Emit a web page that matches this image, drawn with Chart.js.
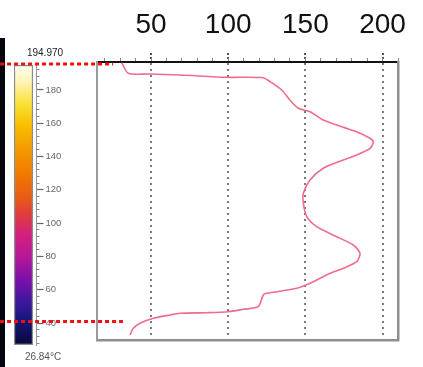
<!DOCTYPE html>
<html><head><meta charset="utf-8">
<script src="https://cdn.jsdelivr.net/npm/chart.js@4/dist/chart.umd.min.js"></script>
<style>
html,body{margin:0;padding:0;background:#fff;}
#wrap{position:relative;width:423px;height:367px;overflow:hidden;background:#fff;}
#strip{position:absolute;left:0;top:38px;width:5px;height:329px;background:#05050f;}
#cb{position:absolute;left:0;top:0;}
#main{position:absolute;left:0;top:0;}
</style></head><body>
<div id="wrap">
<div id="strip"></div>
<canvas id="cb" width="95" height="367"></canvas>
<canvas id="main" width="423" height="367"></canvas>
</div>
<script>
// ---- data ----
const profileTemps = [31.0,35.3,49.3,68.8,99.0,122.7,127.1,134.7,140.0,145.4,153.0,161.6,174.6,183.2,191.9,194.0,191.9,183.2,174.6,161.6,153.0,148.7,148.7,150.9,157.3,170.3,181.0,185.4,183.2,174.6,166.0,153.0,144.4,124.9,122.7,119.5,109.8,100.1,86.1,68.8,62.3,51.5,42.9,38.5,36.4];
const profilePositions = [0.7,11.3,12,13,15.3,15.7,19.7,28,38,46.3,49.7,58,65.3,69.7,76.3,80,86.3,93,98,106.3,118,131.3,141.3,154.7,164.7,174.7,183,191.3,199.7,206.3,211.3,221.3,226.3,231.3,233,244.7,247.3,249.7,250.7,251.3,253,256.3,261.3,266.3,273];
const positionRange = [0, 278];
const tempRange = [15, 210];
const xMajorTicks = [50,100,150,200];
const xMinorTicks = [20,30,40,50,60,70,80,90,100,110,120,130,140,150,160,170,180,190,200,210];
const markerTopTemps = [-47.8, 25.4];
const markerTopPos = [2, 2];
const markerBottomTemps = [-47.8, 31.8];
const markerBottomPos = [259.5, 259.5];
const colorbarRange = [26.84, 194.97];
const colorbarMajorTicks = [40,60,80,100,120,140,160,180];
const colorbarMinorTicks = [28,32,36,40,44,48,52,56,60,64,68,72,76,80,84,88,92,96,100,104,108,112,116,120,124,128,132,136,140,144,148,152,156,160,164,168,172,176,180,184,188,192];
const colorbarMaxLabel = '194.970';
const colorbarMinLabel = '26.84°C';

// ---- colorbar ----
const stops = [[0,'#fffff2'],[0.054,'#fff6c0'],[0.143,'#fae030'],[0.214,'#f8c000'],[0.30,'#f49a00'],[0.39,'#f07a00'],[0.48,'#e85818'],[0.536,'#dd3c40'],[0.61,'#d22080'],[0.68,'#b81898'],[0.77,'#7a10a8'],[0.84,'#4018a0'],[0.91,'#18167a'],[1,'#08083a']];
const cbLabels = {id:'cbLabels', afterDraw(chart){
  const s = chart.scales.y, c = chart.ctx;
  c.save();
  c.font = '10px "Liberation Sans"'; c.textAlign='center'; c.textBaseline='middle';
  c.fillStyle = '#222';
  c.fillText(colorbarMaxLabel, 45, s.getPixelForValue(colorbarRange[1]) - 12);
  c.fillStyle = '#555';
  c.fillText(colorbarMinLabel, 43, s.getPixelForValue(colorbarRange[0]) + 12);
  c.restore();
}};
new Chart(document.getElementById('cb'), {
  type:'bar',
  data:{labels:['t'], datasets:[{data:[colorbarRange],
    backgroundColor:(ctx)=>{const a=ctx.chart.chartArea; if(!a) return '#000';
      const g=ctx.chart.ctx.createLinearGradient(0,a.top,0,a.bottom); stops.forEach(([o,c])=>g.addColorStop(o,c)); return g;},
    borderColor:'#8c8c8c', borderWidth:1.5, borderSkipped:false, barPercentage:1, categoryPercentage:1}]},
  options:{responsive:false, animation:false, events:[],
    layout:{padding:{left:14,top:65,bottom:22,right:0}},
    plugins:{legend:{display:false}, tooltip:{enabled:false}},
    scales:{
      x:{display:false},
      y:{position:'right', weight:0, min:colorbarRange[0], max:colorbarRange[1],
        afterFit:(s)=>{s.width=3.5;}, grid:{display:false}, border:{display:false}, ticks:{display:false}},
      yMinor:{position:'right', weight:1, min:colorbarRange[0], max:colorbarRange[1],
        afterFit:(s)=>{s.width=0;}, afterBuildTicks:(s)=>{s.ticks=colorbarMinorTicks.map(v=>({value:v}));},
        grid:{drawOnChartArea:false, tickLength:3, color:'#8a8a8a', tickWidth:1},
        border:{display:true, color:'#9a9a9a', width:1}, ticks:{display:false}},
      yMajor:{position:'right', weight:2, min:colorbarRange[0], max:colorbarRange[1],
        afterFit:(s)=>{s.width=58.5;}, afterBuildTicks:(s)=>{s.ticks=colorbarMajorTicks.map(v=>({value:v}));},
        grid:{drawOnChartArea:false, tickLength:7, color:'#666', tickWidth:1.2},
        border:{display:false}, ticks:{display:true, padding:2, color:'#666', font:{family:'Liberation Sans', size:9.5}}}
    }},
  plugins:[cbLabels]
});

// ---- main profile chart ----
const pts = (xs, ys) => xs.map((x,i)=>({x, y: ys[i]}));
const marker = {showLine:true, borderColor:'#ee1111', borderWidth:3, borderDash:[4,3], pointRadius:0, clip:false, tension:0};
new Chart(document.getElementById('main'), {
  type:'scatter',
  data:{datasets:[
    {data:pts(profileTemps, profilePositions), showLine:true, borderColor:'rgba(238,100,132,0.95)', borderWidth:1.6, pointRadius:0, tension:0.25},
    Object.assign({data:pts(markerTopTemps, markerTopPos)}, marker),
    Object.assign({data:pts(markerBottomTemps, markerBottomPos)}, marker)
  ]},
  options:{responsive:false, animation:false, events:[],
    layout:{padding:{left:97,right:25,top:0,bottom:27}},
    plugins:{legend:{display:false}, tooltip:{enabled:false}},
    scales:{
      x:{type:'linear', position:'top', weight:1, min:tempRange[0], max:tempRange[1],
        afterFit:(s)=>{s.height=62;}, afterBuildTicks:(s)=>{s.ticks=xMajorTicks.map(v=>({value:v}));},
        grid:{color:'#7a7a7a', lineWidth:2, tickLength:9, tickColor:'#555', tickWidth:2, tickBorderDash:[2,2]},
        border:{display:true, color:'#111', width:2, dash:[2,4]},
        ticks:{font:{family:'Liberation Sans', size:28}, color:'#111', padding:11, maxRotation:0, autoSkip:false}},
      xMinor:{type:'linear', position:'top', weight:0, min:tempRange[0], max:tempRange[1],
        afterFit:(s)=>{s.height=0;}, afterBuildTicks:(s)=>{s.ticks=xMinorTicks.map(v=>({value:v}));},
        grid:{drawOnChartArea:false, tickLength:4, color:'#888', tickWidth:1}, border:{display:false}, ticks:{display:false}},
      xB:{type:'linear', position:'bottom', min:tempRange[0], max:tempRange[1],
        afterFit:(s)=>{s.height=0;}, grid:{display:false}, border:{display:true, color:'#8e8e8e', width:2.5}, ticks:{display:false}},
      y:{type:'linear', position:'left', reverse:true, min:positionRange[0], max:positionRange[1],
        afterFit:(s)=>{s.width=0;}, grid:{display:false}, border:{display:true, color:'#9a9a9a', width:2}, ticks:{display:false}},
      yR:{type:'linear', position:'right', reverse:true, min:positionRange[0], max:positionRange[1],
        afterFit:(s)=>{s.width=0;}, grid:{display:false}, border:{display:true, color:'#8e8e8e', width:2.5}, ticks:{display:false}}
    }}
});
</script>
</body></html>
